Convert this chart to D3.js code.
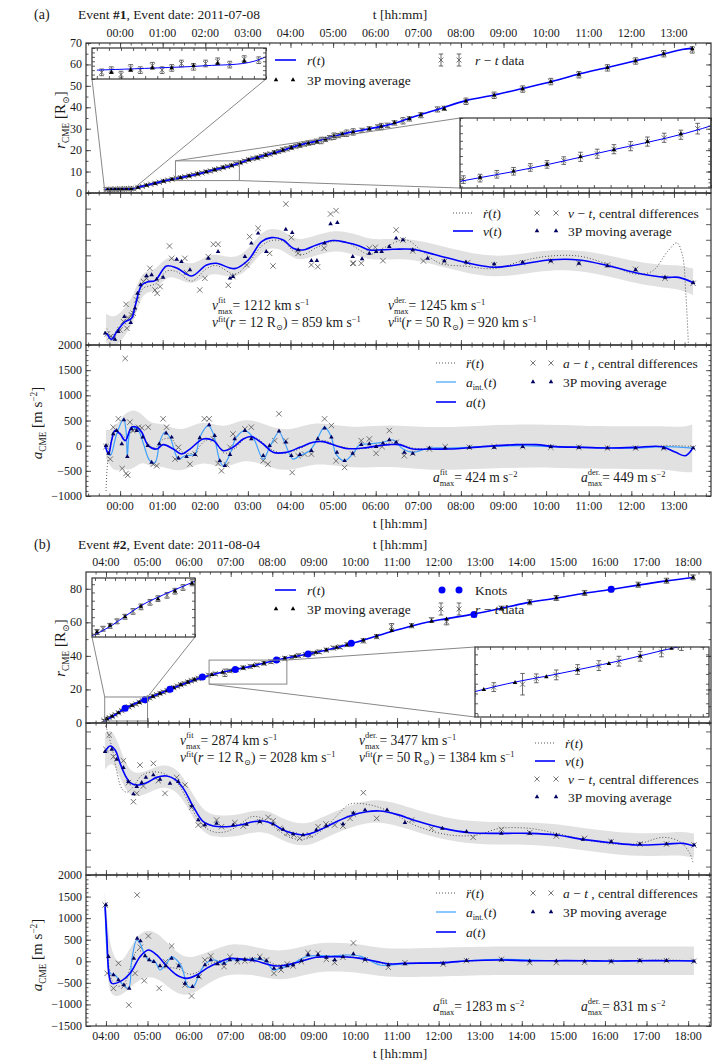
<!DOCTYPE html>
<html>
<head>
<meta charset="utf-8">
<script src="https://cdn.jsdelivr.net/npm/d3@7"></script>
<style>
body { margin: 0; background: #fff; }
svg, svg text { font-family: 'Liberation Serif', 'DejaVu Serif', serif; }
</style>
</head>
<body>
<div id="chart"></div>
<script>
// ---------- event #1 (2011-07-08), time in hours from 00:00 ----------
var hoursA = [0,1,2,3,4,5,6,7,8,9,10,11,12,13];
var hourLabelsA = ["00:00","01:00","02:00","03:00","04:00","05:00","06:00","07:00","08:00","09:00","10:00","11:00","12:00","13:00"];
var rTicksA = [0,10,20,30,40,50,60,70];

// [t, r, err]
var rDataA = [[-0.33,1.5,0.15],[-0.29,1.6,0.15],[-0.25,1.4,0.15],[-0.21,1.7,0.15],[-0.17,1.6,0.15],[-0.12,1.8,0.15],[-0.08,1.6,0.15],[-0.04,1.7,0.15],[0.0,1.9,0.15],[0.05,1.75,0.15],[0.1,1.9,0.15],[0.15,2.0,0.15],[0.2,1.85,0.15],[0.26,2.1,0.15],[0.32,2.05,0.15],[0.42,2.6,0.4],[0.52,3.1,0.4],[0.62,3.6,0.4],[0.72,4.1,0.4],[0.82,4.5,0.4],[0.92,5.0,0.5],[1.02,5.5,0.5],[1.12,6.0,0.5],[1.22,6.4,0.5],[1.32,6.9,0.5],[1.42,7.1,0.5],[1.52,7.6,0.5],[1.62,8.0,0.5],[1.72,8.5,0.5],[1.82,8.9,0.5],[1.92,9.4,0.5],[2.02,9.9,0.6],[2.12,10.3,0.6],[2.22,10.9,0.6],[2.32,11.3,0.6],[2.42,11.9,0.6],[2.52,12.4,0.6],[2.62,12.8,0.6],[2.72,13.6,0.7],[2.82,14.2,0.7],[2.92,14.9,0.7],[3.02,15.5,0.7],[3.12,16.1,0.7],[3.22,16.4,0.8],[3.32,17.1,0.8],[3.42,17.8,0.8],[3.52,18.2,0.8],[3.62,18.9,0.8],[3.72,19.4,0.8],[3.82,20.1,0.9],[3.92,20.6,0.9],[4.02,21.2,0.9],[4.12,21.9,0.9],[4.22,22.2,0.9],[4.32,22.8,0.9],[4.42,23.3,1.0],[4.52,23.6,1.0],[4.62,24.1,1.0],[4.72,24.5,1.5],[4.82,25.0,1.0],[4.92,25.8,1.0],[5.02,26.5,1.5],[5.12,26.8,1.0],[5.22,27.4,1.0],[5.32,27.9,1.5],[5.47,28.5,1.5],[5.68,29.2,1.0],[5.85,29.9,1.0],[6.05,30.8,1.0],[6.13,31.0,1.5],[6.28,31.6,1.0],[6.44,32.7,1.0],[6.64,33.7,1.5],[6.79,34.6,1.0],[7.06,36.3,1.2],[7.45,39.0,1.2],[7.61,39.5,1.0],[8.12,42.8,1.5],[8.78,45.6,1.5],[9.45,48.5,1.5],[10.11,52.0,1.5],[10.77,55.2,1.5],[11.44,58.4,1.5],[12.10,61.6,1.5],[12.76,65.0,1.5],[13.43,66.8,1.5]];
var rAvgA = [[-0.29,1.5],[-0.21,1.6],[-0.12,1.7],[-0.04,1.7],[0.05,1.8],[0.15,1.9],[0.26,2.0],[0.42,2.6],[0.62,3.6],[0.82,4.5],[1.02,5.5],[1.22,6.4],[1.42,7.2],[1.62,8.0],[1.82,8.9],[2.02,9.9],[2.22,10.8],[2.42,11.9],[2.62,12.9],[2.82,14.2],[3.02,15.5],[3.22,16.5],[3.42,17.7],[3.62,18.8],[3.82,20.0],[4.02,21.2],[4.22,22.3],[4.42,23.3],[4.62,24.1],[4.82,25.1],[5.02,26.4],[5.22,27.4],[5.47,28.4],[5.85,29.9],[6.13,31.1],[6.44,32.8],[6.79,34.7],[7.06,36.4],[7.61,39.4],[8.12,42.9],[8.78,45.6],[9.45,48.6],[10.11,51.9],[10.77,55.3],[11.44,58.5],[12.10,61.6],[12.76,64.9],[13.43,67.2]];
var rFitA = [[-0.35,1.6],[-0.1,1.7],[0.1,1.8],[0.3,2.0],[0.47,2.9],[0.7,4.0],[0.94,5.2],[1.33,6.8],[1.72,8.4],[2.19,10.7],[2.65,13.0],[3.04,15.6],[3.43,17.7],[3.83,20.0],[4.22,22.4],[4.61,24.2],[5.0,26.3],[5.39,28.3],[5.70,29.4],[6.17,31.2],[6.56,33.3],[6.95,35.9],[7.45,39.0],[8.12,43.1],[8.78,45.7],[9.45,48.8],[10.11,51.9],[10.77,55.5],[11.44,58.6],[12.10,61.7],[12.76,64.9],[13.19,67.0],[13.43,67.5]];

var vFitA = [[-0.31,0],[-0.20,-77],[-0.08,21],[0.12,150],[0.27,192],[0.35,342],[0.51,620],[0.66,663],[0.82,676],[1.09,864],[1.33,838],[1.68,736],[2.03,877],[2.26,898],[2.69,830],[3.01,941],[3.32,1176],[3.55,1227],[3.83,1197],[4.06,1091],[4.29,1069],[4.61,1133],[5.00,1190],[5.31,1165],[5.62,1120],[5.85,1069],[6.40,1078],[6.87,1078],[7.42,1005],[8.12,907],[8.78,847],[9.45,890],[10.07,941],[10.77,941],[11.48,864],[12.10,778],[12.80,718],[13.11,718],[13.45,650]];
var vBandA = [[-0.33,-120,250],[-0.15,-180,200],[0.0,-120,260],[0.15,0,350],[0.3,120,470],[0.5,480,770],[0.66,530,800],[0.82,540,810],[1.1,740,990],[1.33,710,960],[1.68,610,860],[2.03,750,1000],[2.26,770,1020],[2.69,700,950],[3.0,810,1070],[3.32,1050,1300],[3.55,1100,1350],[3.83,1070,1320],[4.06,960,1220],[4.29,940,1200],[4.61,1000,1260],[5.0,1060,1320],[5.31,1040,1300],[5.62,990,1260],[5.85,940,1200],[6.4,950,1210],[6.87,950,1210],[7.42,875,1135],[8.12,775,1040],[8.78,715,980],[9.45,760,1020],[10.07,810,1070],[10.77,810,1070],[11.48,730,1000],[12.1,640,920],[12.8,580,870],[13.11,570,880],[13.45,490,830]];
var vDotA = [[-0.31,60],[-0.2,-40],[-0.05,60],[0.12,180],[0.27,260],[0.4,420],[0.55,580],[0.7,610],[0.85,640],[1.1,800],[1.33,790],[1.68,670],[2.03,830],[2.26,870],[2.69,760],[3.01,900],[3.32,1120],[3.55,1190],[3.83,1180],[4.06,1060],[4.29,1010],[4.61,1100],[5.0,1180],[5.31,1170],[5.62,1070],[5.85,1010],[6.2,1100],[6.7,1200],[7.1,1050],[7.5,900],[8.12,860],[8.78,830],[9.45,930],[10.07,990],[10.77,990],[11.48,880],[12.10,760],[12.5,800],[12.85,1050],[13.07,1160],[13.2,1000],[13.28,500],[13.34,-150]];
var vCrossA = [[-0.30,-9],[-0.23,-43],[-0.16,-64],[0,43],[0.08,150],[0.14,372],[0.20,192],[0.16,64],[0.27,235],[0.31,257],[0.39,428],[0.55,663],[0.62,706],[0.70,834],[0.82,556],[0.94,599],[0.87,513],[1.16,1120],[1.21,962],[1.52,962],[1.56,778],[1.87,556],[1.99,706],[2.07,984],[2.19,1142],[2.30,1142],[2.54,616],[2.65,727],[2.97,877],[3.04,1240],[3.24,1347],[3.51,1026],[3.59,864],[3.89,1659],[4.02,1227],[4.18,1026],[4.49,877],[4.64,855],[4.79,1091],[4.94,1531],[5.07,1574],[5.46,898],[5.48,898],[5.66,898],[5.85,1091],[5.99,1103],[6.17,932],[6.48,1326],[6.64,1197],[6.87,1056],[7.12,928],[7.61,919],[8.16,907],[8.78,877],[9.45,907],[10.11,928],[10.77,898],[11.44,877],[12.10,821],[12.79,706],[13.45,641]];
var vAvgA = [[-0.35,0],[-0.12,-77],[-0.04,21],[0.10,214],[0.25,137],[0.35,321],[0.41,513],[0.48,620],[0.62,736],[0.74,748],[0.86,693],[1.01,718],[1.33,949],[1.44,919],[1.64,813],[2.07,962],[2.30,1048],[2.58,706],[2.65,727],[2.93,984],[3.08,1155],[3.24,1283],[3.43,1048],[3.89,1334],[4.04,1292],[4.18,1069],[4.49,932],[4.62,932],[4.80,1155],[4.94,1403],[5.10,1420],[5.46,984],[5.68,954],[5.85,1026],[6.01,1048],[6.14,1048],[6.32,1112],[6.48,1219],[6.64,1197],[6.87,1069],[7.22,962],[7.61,928],[8.12,911],[8.78,889],[9.45,911],[10.11,928],[10.77,898],[11.44,864],[12.10,813],[12.79,718],[13.45,650]];

var aFitA = [[-0.35,0],[-0.27,-167],[-0.20,100],[-0.12,300],[0,233],[0.12,100],[0.27,367],[0.39,367],[0.51,267],[0.66,0],[0.86,-67],[1.01,20],[1.25,-67],[1.44,-167],[1.64,-67],[1.95,133],[2.19,100],[2.42,-100],[2.65,-33],[2.89,133],[3.08,180],[3.36,33],[3.59,-133],[3.90,-133],[4.22,-33],[4.53,67],[4.76,80],[5.07,0],[5.35,-60],[5.70,-47],[6.09,0],[6.32,20],[6.56,20],[6.87,-67],[7.26,-67],[7.73,-67],[8.51,-20],[9.29,20],[9.76,20],[10.22,-20],[10.85,-33],[11.47,-47],[12.10,-33],[12.72,-20],[13.04,-133],[13.27,-200],[13.43,-67]];
var aIntA = [[-0.35,0],[-0.23,-200],[-0.08,233],[0.08,533],[0.14,300],[0.17,-220],[0.21,200],[0.27,367],[0.43,300],[0.55,33],[0.70,-300],[0.82,-333],[0.94,100],[1.05,267],[1.17,167],[1.37,-267],[1.52,-200],[1.76,-167],[1.87,167],[2.07,400],[2.19,233],[2.34,-300],[2.42,-400],[2.58,-167],[2.73,167],[2.93,300],[3.12,167],[3.36,-267],[3.51,-33],[3.73,267],[3.86,67],[4.06,-267],[4.22,-200],[4.45,-100],[4.61,100],[4.80,367],[4.96,167],[5.07,-167],[5.27,-300],[5.46,-167],[5.62,20],[5.78,33],[6.17,67],[6.40,113],[6.64,-67],[6.87,-133],[7.26,-47],[7.73,-47],[8.51,-20],[9.45,0],[10.07,-20],[10.85,-33],[12.10,-47],[12.72,-20],[13.43,-47]];
var aDotA = [[-0.33,-900],[-0.30,-400],[-0.25,-100],[-0.15,200],[0,250],[0.15,150],[0.3,300],[0.45,300],[0.6,100],[0.8,-50],[1.0,120],[1.2,140],[1.4,-100],[1.7,-150],[2.0,100],[2.2,120],[2.45,-150],[2.7,-50],[2.95,150],[3.2,150],[3.5,-50],[3.8,-150],[4.1,-100],[4.5,50],[4.8,100],[5.1,0],[5.5,-60],[6.0,-30],[6.4,60],[6.9,-50],[7.5,-60],[8.5,-20],[9.5,20],[10.5,-20],[11.5,-40],[12.5,-20],[13.0,0],[13.45,-20]];
var aBandA = [[-0.33,-250,320],[-0.16,-530,300],[0.05,-450,600],[0.27,-500,730],[0.5,-300,650],[0.7,-420,430],[1.0,-400,450],[1.44,-560,250],[1.95,-270,540],[2.42,-500,320],[2.89,-250,560],[3.36,-380,440],[3.9,-540,260],[4.53,-340,480],[5.07,-400,400],[5.62,-450,360],[6.32,-400,420],[7.26,-500,350],[8.51,-460,400],[9.76,-420,430],[10.85,-460,390],[12.1,-470,380],[12.72,-460,390],[13.2,-530,360],[13.43,-530,420]];
var aCrossA = [[-0.33,-20],[-0.23,-267],[-0.16,367],[-0.04,533],[0.05,-453],[0.12,1733],[0.14,-553],[0.18,-587],[0.23,467],[0.30,300],[0.35,333],[0.43,367],[0.51,353],[0.66,367],[0.78,-367],[0.86,-400],[1.01,533],[1.09,367],[1.29,-267],[1.37,-33],[1.64,-367],[1.76,-167],[1.98,533],[2.09,533],[2.19,133],[2.30,-353],[2.38,-500],[2.50,-380],[2.58,-33],[2.65,233],[2.93,333],[3.08,367],[3.36,-300],[3.47,-367],[3.63,100],[3.73,633],[3.89,100],[4.04,-533],[4.18,-200],[4.33,-167],[4.49,-167],[4.80,533],[4.96,400],[5.07,-300],[5.27,-433],[5.46,-167],[5.66,100],[5.85,133],[6.01,-153],[6.15,-20],[6.32,300],[6.48,67],[6.67,-200],[6.87,-153],[7.26,-67],[7.63,-20],[8.20,-33],[8.78,-20],[9.45,-20],[10.11,-33],[10.77,-33],[11.44,-47],[12.10,-47],[12.76,-47],[13.45,-47]];
var aAvgA = [[-0.33,0],[-0.27,-153],[-0.16,233],[-0.08,300],[0.04,33],[0.09,513],[0.17,-220],[0.27,333],[0.39,300],[0.53,167],[0.65,0],[0.74,-333],[0.92,33],[1.08,247],[1.21,167],[1.37,-247],[1.56,-220],[1.76,-180],[1.87,153],[2.09,413],[2.22,200],[2.34,-300],[2.46,-400],[2.58,-180],[2.69,133],[2.93,300],[3.08,133],[3.36,-200],[3.51,0],[3.73,287],[3.89,67],[4.02,-200],[4.22,-180],[4.49,-100],[4.64,133],[4.80,347],[4.96,167],[5.09,-133],[5.27,-300],[5.46,-153],[5.66,20],[5.85,33],[6.01,-20],[6.17,47],[6.32,113],[6.48,67],[6.67,-133],[6.87,-153],[7.26,-47],[7.63,-47],[8.20,-33],[8.78,-33],[9.45,-20],[10.11,-20],[10.77,-33],[11.44,-47],[12.10,-47],[12.76,-47],[13.45,-47]];

// ---------- event #2 (2011-08-04) ----------
var hoursB = [4,5,6,7,8,9,10,11,12,13,14,15,16,17,18];
var hourLabelsB = ["04:00","05:00","06:00","07:00","08:00","09:00","10:00","11:00","12:00","13:00","14:00","15:00","16:00","17:00","18:00"];
var rTicksB = [0,20,40,60,80];

var rDataB = [[3.95,1.5,0.6],[4.02,2.4,0.6],[4.08,3.2,0.6],[4.15,3.9,0.6],[4.22,5.0,0.6],[4.30,6.1,0.6],[4.38,7.4,0.7],[4.46,8.5,0.7],[4.55,9.6,0.7],[4.63,10.5,0.7],[4.72,11.3,0.7],[4.80,12.3,0.7],[4.88,13.2,0.7],[4.97,14.4,0.8],[5.05,15.0,0.8],[5.13,15.9,0.8],[5.22,16.8,0.8],[5.30,17.6,0.8],[5.38,18.4,0.8],[5.47,19.3,0.8],[5.55,20.3,0.8],[5.63,21.1,0.8],[5.72,21.9,0.8],[5.80,22.8,0.8],[5.88,23.5,0.9],[5.97,24.4,0.9],[6.05,25.2,0.9],[6.13,25.8,0.9],[6.22,26.6,0.9],[6.30,27.3,0.9],[6.47,28.4,0.9],[6.63,29.3,0.9],[6.86,29.9,2.2],[6.97,31.1,0.9],[7.13,31.8,1.0],[7.30,32.9,1.0],[7.47,33.7,1.0],[7.63,34.6,1.0],[7.80,35.6,1.0],[7.97,36.5,1.0],[8.13,37.8,1.0],[8.30,38.5,1.0],[8.47,39.2,1.0],[8.63,40.2,1.0],[8.80,40.7,1.0],[8.97,41.6,1.0],[9.13,42.4,1.0],[9.30,43.5,1.0],[9.47,44.7,1.0],[9.63,45.3,1.0],[9.80,46.7,1.0],[10.19,49.0,1.2],[10.51,51.5,1.2],[10.87,57.5,1.8],[11.35,58.0,1.2],[11.83,61.5,1.2],[12.19,60.3,1.8],[12.85,64.5,1.2],[13.51,68.4,1.2],[14.19,72.0,1.5],[14.83,74.5,1.5],[15.51,77.5,1.5],[16.15,79.6,1.5],[16.80,82.4,1.5],[17.48,84.8,1.5],[18.12,86.8,1.5]];
var rAvgB = [[4.02,2.4],[4.15,4.0],[4.30,6.1],[4.46,8.6],[4.63,10.4],[4.80,12.3],[4.97,14.2],[5.13,15.9],[5.30,17.6],[5.47,19.3],[5.63,21.0],[5.80,22.8],[5.97,24.3],[6.13,25.9],[6.30,27.2],[6.55,28.8],[6.80,30.2],[7.05,31.4],[7.30,32.8],[7.55,34.1],[7.80,35.6],[8.05,37.2],[8.30,38.5],[8.55,39.7],[8.80,40.8],[9.05,42.0],[9.30,43.5],[9.55,45.0],[9.80,46.6],[10.19,49.3],[10.51,51.7],[10.87,55.0],[11.35,58.0],[11.83,60.5],[12.19,61.9],[12.85,64.8],[13.51,68.3],[14.19,71.9],[14.83,74.5],[15.51,77.3],[16.15,79.6],[16.80,82.3],[17.48,84.7],[18.12,86.7]];
var rFitB = [[3.95,1.4],[4.0,1.8],[4.18,4.2],[4.46,8.8],[4.7,11.6],[4.94,14.1],[5.22,16.9],[5.54,20.1],[5.94,24.0],[6.34,27.4],[6.74,30.0],[7.14,32.0],[7.62,34.6],[8.10,37.5],[8.50,39.5],[8.86,41.1],[9.14,42.6],[9.63,45.5],[9.9,47.4],[10.19,49.4],[10.51,51.8],[10.99,55.4],[11.47,58.6],[12.03,61.5],[12.83,64.9],[13.39,67.7],[14.11,71.6],[14.83,74.4],[15.47,77.2],[16.15,79.6],[16.80,82.2],[17.48,84.7],[18.12,86.7]];
var knotsB = [[4.46,8.8],[4.94,13.9],[5.54,20.1],[6.32,27.4],[7.11,31.9],[8.10,37.6],[8.86,41.1],[9.90,47.5],[12.85,64.6],[16.15,79.7]];

var vFitB = [[3.98,2720],[4.10,2854],[4.22,2760],[4.34,2444],[4.46,2168],[4.58,1986],[4.74,1931],[4.98,1986],[5.22,2112],[5.46,2144],[5.66,2065],[5.86,1852],[6.10,1418],[6.34,1062],[6.58,960],[6.90,944],[7.22,983],[7.54,1062],[7.78,1078],[8.02,1007],[8.26,865],[8.50,786],[8.74,747],[8.98,802],[9.22,904],[9.54,1062],[9.87,1200],[10.27,1299],[10.59,1315],[10.99,1236],[11.47,1078],[12.11,904],[12.75,802],[13.47,786],[14.19,786],[14.83,747],[15.47,644],[16.15,565],[16.76,510],[17.48,533],[17.88,549],[18.14,486]];
var vBandB = [[3.98,2300,3150],[4.1,2450,3250],[4.22,2400,3100],[4.34,2100,2800],[4.46,1850,2480],[4.58,1700,2280],[4.74,1650,2200],[4.98,1720,2260],[5.22,1850,2380],[5.46,1880,2410],[5.66,1800,2330],[5.86,1580,2120],[6.1,1150,1690],[6.34,800,1330],[6.58,700,1220],[6.9,690,1200],[7.22,730,1240],[7.54,810,1320],[7.78,820,1340],[8.02,750,1270],[8.26,610,1130],[8.5,530,1050],[8.74,490,1010],[8.98,540,1060],[9.22,640,1170],[9.54,800,1320],[9.87,920,1450],[10.27,1040,1560],[10.59,1050,1580],[10.99,970,1500],[11.47,820,1340],[12.11,640,1170],[12.75,540,1070],[13.47,520,1050],[14.19,520,1050],[14.83,480,1010],[15.47,380,910],[16.15,300,830],[16.76,240,780],[17.48,260,800],[17.88,270,830],[18.14,200,780]];
var vDotB = [[3.97,3400],[4.05,3150],[4.15,2800],[4.25,2300],[4.38,1850],[4.50,1760],[4.65,1880],[4.85,2150],[5.1,2240],[5.4,2200],[5.7,2000],[6.0,1500],[6.3,1000],[6.6,820],[6.9,830],[7.2,980],[7.5,1180],[7.8,1130],[8.1,900],[8.4,700],[8.7,640],[9.0,730],[9.3,950],[9.6,1250],[9.87,1480],[10.35,1460],[10.83,1300],[11.47,960],[12.27,747],[12.91,747],[13.47,904],[14.19,904],[14.83,786],[15.47,644],[16.28,533],[16.84,549],[17.40,691],[17.80,589],[18.04,312],[18.12,75]];
var vCrossB = [[4.0,2775],[4.08,3115],[4.18,2602],[4.42,2507],[4.54,1986],[4.66,1536],[4.74,1733],[4.82,2404],[4.90,1907],[5.14,2444],[5.26,2033],[5.42,1733],[5.70,2112],[5.90,1931],[6.06,1402],[6.22,983],[6.34,983],[6.66,1102],[6.78,944],[7.10,1039],[7.30,960],[7.70,1062],[7.90,1165],[8.02,1086],[8.18,904],[8.36,786],[8.52,747],[8.66,668],[8.90,747],[9.10,944],[9.29,1007],[9.50,983],[9.70,960],[9.87,1141],[9.95,1244],[10.19,1749],[10.51,1141],[11.35,1102],[11.83,904],[12.83,691],[13.51,881],[14.19,802],[14.83,723],[15.51,668],[16.15,589],[16.84,533],[17.48,533],[18.14,510]];
var vAvgB = [[3.98,2720],[4.14,2775],[4.26,2538],[4.42,2341],[4.54,2010],[4.66,1718],[4.74,1891],[4.86,1986],[4.96,2112],[5.14,2168],[5.30,2065],[5.54,1970],[5.74,2010],[6.06,1434],[6.22,1102],[6.38,983],[6.66,1023],[7.06,983],[7.38,999],[7.70,1062],[8.02,1007],[8.26,881],[8.50,770],[8.74,747],[9.06,865],[9.30,960],[9.70,1007],[9.95,1268],[10.23,1339],[10.76,1339],[11.19,1039],[12.09,904],[12.67,825],[13.51,786],[14.19,786],[14.83,747],[15.47,644],[16.15,589],[16.84,533],[17.48,533],[18.14,510]];

var aFitB = [[3.98,1266],[4.02,571],[4.08,-356],[4.14,-511],[4.34,-472],[4.58,-279],[4.82,107],[5.02,262],[5.22,146],[5.46,-109],[5.70,-318],[5.94,-395],[6.18,-318],[6.42,-164],[6.66,-47],[6.98,68],[7.30,45],[7.62,7],[7.86,-63],[8.10,-109],[8.34,-86],[8.66,-9],[9.06,92],[9.46,107],[9.79,100],[10.11,68],[10.51,-8],[10.83,-63],[11.15,-47],[12.11,-32],[12.75,14],[13.47,30],[14.19,14],[14.83,14],[15.47,14],[16.15,6],[16.84,14],[17.48,14],[18.14,6]];
var aIntB = [[3.98,1266],[4.03,184],[4.10,-279],[4.22,-318],[4.34,-472],[4.54,-627],[4.62,30],[4.74,494],[4.82,416],[4.90,223],[5.02,30],[5.18,-9],[5.30,-202],[5.46,-47],[5.58,107],[5.70,30],[5.82,-125],[5.98,-588],[6.10,-588],[6.22,-356],[6.34,-125],[6.46,-9],[6.62,30],[6.82,-47],[6.98,30],[7.18,30],[7.42,45],[7.66,53],[7.86,-9],[8.02,-202],[8.18,-164],[8.34,-125],[8.58,-9],[8.82,107],[9.14,130],[9.46,123],[9.79,146],[10.11,120],[10.59,-86],[10.83,-86],[11.47,-47],[12.11,-32],[12.75,14],[13.47,45],[14.83,14],[16.15,6],[17.48,14],[18.14,14]];
var aDotB = [[3.98,1280],[4.03,400],[4.08,-200],[4.15,-450],[4.3,-580],[4.45,-500],[4.6,-100],[4.75,250],[4.9,200],[5.05,50],[5.2,-50],[5.4,-150],[5.6,-150],[5.8,-200],[6.0,-300],[6.2,-250],[6.4,-100],[6.7,0],[7.0,40],[7.3,60],[7.6,60],[7.9,0],[8.1,-80],[8.4,-60],[8.7,0],[9.0,80],[9.4,110],[9.8,110],[10.2,60],[10.6,-40],[11.0,-60],[11.5,-40],[12.1,-30],[12.8,10],[13.5,40],[14.2,20],[14.8,10],[15.5,10],[16.2,0],[16.8,20],[17.5,30],[18.14,10]];
var aBandB = [[3.97,1000,1600],[4.03,-300,1000],[4.1,-800,300],[4.3,-820,-100],[4.5,-700,150],[4.75,-450,600],[5.0,-350,750],[5.25,-400,650],[5.5,-600,400],[5.8,-800,120],[6.1,-760,80],[6.4,-550,200],[6.7,-380,300],[7.0,-300,420],[7.5,-300,360],[8.0,-420,240],[8.4,-420,250],[9.0,-250,420],[9.5,-230,440],[10.1,-260,400],[10.6,-350,300],[11.2,-370,290],[12.1,-350,320],[13.5,-310,350],[15.0,-320,340],[16.5,-320,340],[18.14,-320,340]];
var aCrossB = [[3.98,1305],[4.03,-279],[4.18,-627],[4.30,-47],[4.43,-573],[4.55,-1013],[4.70,-279],[4.75,1537],[4.83,324],[4.92,-449],[5.02,586],[5.28,-627],[5.43,-9],[5.58,354],[5.75,-109],[5.90,-550],[6.06,-805],[6.24,-356],[6.38,30],[6.52,123],[6.68,-32],[6.84,-125],[6.98,107],[7.16,-9],[7.34,7],[7.52,30],[7.70,107],[7.86,30],[8.04,-279],[8.21,-202],[8.36,-63],[8.50,-109],[8.70,-9],[8.86,200],[9.10,184],[9.30,45],[9.50,-32],[9.70,92],[9.95,424],[10.23,30],[10.79,-140],[11.19,-32],[12.11,-63],[12.67,14],[13.51,45],[14.19,-32],[14.83,-32],[15.51,-24],[16.15,-8],[16.84,14],[17.48,14],[18.14,0]];
var aAvgB = [[4.00,1305],[4.06,107],[4.18,-318],[4.30,-434],[4.43,-550],[4.56,-627],[4.67,68],[4.75,532],[4.83,470],[4.94,123],[5.04,30],[5.15,-9],[5.30,-109],[5.44,-109],[5.58,68],[5.75,-109],[5.90,-511],[6.08,-588],[6.22,-356],[6.38,-86],[6.52,30],[6.68,-63],[6.84,-47],[6.98,30],[7.16,30],[7.34,45],[7.52,45],[7.70,68],[7.86,7],[8.04,-164],[8.21,-140],[8.36,-109],[8.50,-86],[8.70,14],[8.86,146],[9.10,146],[9.30,92],[9.50,30],[9.70,107],[9.95,172],[10.23,45],[10.79,-86],[11.19,-63],[12.11,-47],[12.67,14],[13.51,30],[14.19,6],[14.83,6],[15.51,0],[16.15,0],[16.84,14],[17.48,14],[18.14,0]];

// ---------- layout ----------
var W = 712, H = 1061, X0 = 86, X1 = 711;
var BLUE = "#0000ff", LIGHT = "#3fa0ff", BAND = "#e1e1e1", INK = "#1a1a1a";
var SERIF = "'Liberation Serif', 'DejaVu Serif', serif";
var NOTE = 13.6;

var svg = d3.select("#chart").append("svg").attr("width", W).attr("height", H)
    .attr("font-family", SERIF);
var defs = svg.append("defs");
var clipN = 0;

function clipUrl(x, y, w, h) {
	var id = "clip" + (clipN++);
	defs.append("clipPath").attr("id", id)
	  .append("rect").attr("x", x).attr("y", y).attr("width", w).attr("height", h);
	return "url(#" + id + ")";
}

function newText(g, x, y, size) {
	return g.append("text").attr("x", x).attr("y", y)
	    .style("font-size", size + "px").style("font-family", SERIF).attr("fill", INK);
}

// text with italics, superscripts, subscripts; parts = [[text, kind]]
// kind "ud" stacks a superscript over a subscript; text is split around it
function mathText(g, x, y, parts, size) {
	var grp = g.append("g");
	var x0 = x;
	var t = newText(grp, x0, y, size);
	var cur = 0, small = size * 0.62;
	parts.forEach(function(p) {
		var kind = p[1] || "n";
		if (kind === "ud") {
			var px = x0 + t.node().getComputedTextLength();
			var a = newText(grp, px, y - 0.48 * size, small).text(p[0][0]);
			var b = newText(grp, px, y + 0.3 * size, small).text(p[0][1]);
			x0 = px + Math.max(a.node().getComputedTextLength(), b.node().getComputedTextLength());
			t = newText(grp, x0, y, size);
			cur = 0;
			return;
		}
		var off = kind === "u" ? -0.36 * size : (kind === "d" ? 0.25 * size : 0);
		var sp = t.append("tspan").attr("dy", off - cur).text(p[0]);
		if (kind === "u" || kind === "d") sp.style("font-size", small + "px");
		if (kind === "i") sp.style("font-style", "italic");
		cur = off;
	});
	return grp;
}

function crossAt(g, x, y, s) {
	s = s || 2.7;
	g.append("path").attr("d", "M" + (x - s) + "," + (y - s) + "L" + (x + s) + "," + (y + s) + "M" + (x - s) + "," + (y + s) + "L" + (x + s) + "," + (y - s))
	    .attr("stroke", "#555").attr("stroke-width", 0.8).attr("fill", "none");
}

var triShape = d3.symbol().type(d3.symbolTriangle).size(9);

function triAt(g, x, y, color) {
	g.append("path").attr("d", triShape()).attr("transform", "translate(" + x + "," + y + ")").attr("fill", color);
}

function errAt(g, x, y0, y1) {
	g.append("path").attr("d", "M" + x + "," + y0 + "V" + y1 + "M" + (x - 2.3) + "," + y0 + "H" + (x + 2.3) + "M" + (x - 2.3) + "," + y1 + "H" + (x + 2.3))
	    .attr("stroke", "#444").attr("stroke-width", 0.8).attr("fill", "none");
}

function line(x, y) {
	return d3.line().x(function(d) { return x(d[0]); }).y(function(d) { return y(d[1]); }).curve(d3.curveCatmullRom.alpha(0.5));
}

function band(x, y) {
	return d3.area().x(function(d) { return x(d[0]); })
	    .y0(function(d) { return y(d[1]); }).y1(function(d) { return y(d[2]); })
	    .curve(d3.curveBasis);
}

function styleAxis(sel) {
	sel.select(".domain").remove();
	sel.selectAll("text").remove();
	sel.selectAll("line").attr("stroke", "#333").attr("stroke-width", 0.8);
}

function frame(x, y, y0, y1, tMajor, tMinor, yMajor, yMinor, yLabels) {
	var g = svg.append("g");
	[[d3.axisTop, y0], [d3.axisBottom, y1]].forEach(function(a) {
		g.append("g").attr("transform", "translate(0," + a[1] + ")")
		    .call(a[0](x).tickValues(tMinor).tickSize(-2.5).tickFormat("")).call(styleAxis);
		g.append("g").attr("transform", "translate(0," + a[1] + ")")
		    .call(a[0](x).tickValues(tMajor).tickSize(-5).tickFormat("")).call(styleAxis);
	});
	[[d3.axisLeft, X0], [d3.axisRight, X1]].forEach(function(a) {
		g.append("g").attr("transform", "translate(" + a[1] + ",0)")
		    .call(a[0](y).tickValues(yMinor).tickSize(-2.5).tickFormat("")).call(styleAxis);
		g.append("g").attr("transform", "translate(" + a[1] + ",0)")
		    .call(a[0](y).tickValues(yMajor).tickSize(-5).tickFormat("")).call(styleAxis);
	});
	g.append("rect").attr("x", X0).attr("y", y0).attr("width", X1 - X0).attr("height", y1 - y0)
	    .attr("fill", "none").attr("stroke", "#333").attr("stroke-width", 1.2);
	if (yLabels) {
		g.selectAll(null).data(yLabels).enter().append("text")
		    .attr("x", 82).attr("y", function(d) { return y(d) + 4; })
		    .attr("text-anchor", "end").style("font-size", "12px").style("font-family", SERIF).attr("fill", INK)
		    .text(function(d) { return d < 0 ? "\u2212" + (-d) : d; });
	}
}

function yLabel(cx, cy, parts) {
	var g = svg.append("g").attr("transform", "translate(" + cx + "," + cy + ") rotate(-90)");
	var t = mathText(g, 0, 5, parts, 15);
	var bb = t.node().getBBox();
	t.attr("transform", "translate(" + (-bb.width / 2) + ",0)");
}

function corner(o, k) {
	return [k[0] === "l" ? o.l : o.r, k[1] === "t" ? o.t : o.b];
}

function drawInset(ins, x, y, rData, rFit, rAvg) {
	var xi = d3.scaleLinear().domain(ins.t).range([ins.box[0], ins.box[1]]);
	var yi = d3.scaleLinear().domain(ins.r).range([ins.box[3], ins.box[2]]);
	var sm = {l: x(ins.t[0]), r: x(ins.t[1]), t: y(ins.r[1]), b: y(ins.r[0])};
	var bx = {l: ins.box[0], r: ins.box[1], t: ins.box[2], b: ins.box[3]};
	svg.append("rect").attr("x", sm.l).attr("y", sm.t).attr("width", sm.r - sm.l).attr("height", sm.b - sm.t)
	    .attr("fill", "none").attr("stroke", "#888").attr("stroke-width", 1);
	ins.links.forEach(function(k) {
		var p = corner(sm, k[0]), q = corner(bx, k[1]);
		svg.append("line").attr("x1", p[0]).attr("y1", p[1]).attr("x2", q[0]).attr("y2", q[1])
		    .attr("stroke", "#888").attr("stroke-width", 1);
	});
	svg.append("rect").attr("x", bx.l).attr("y", bx.t).attr("width", bx.r - bx.l).attr("height", bx.b - bx.t).attr("fill", "#fff");
	var body = svg.append("g").attr("clip-path", clipUrl(bx.l, bx.t, bx.r - bx.l, bx.b - bx.t));
	rData.forEach(function(d) {
		errAt(body, xi(d[0]), yi(d[1] - d[2]), yi(d[1] + d[2]));
		crossAt(body, xi(d[0]), yi(d[1]), 2.5);
	});
	body.append("path").datum(rFit).attr("d", line(xi, yi)).attr("fill", "none").attr("stroke", BLUE).attr("stroke-width", 1);
	rAvg.forEach(function(d) { triAt(body, xi(d[0]), yi(d[1]), "#000"); });
	var g = svg.append("g");
	[[d3.axisTop, bx.t], [d3.axisBottom, bx.b]].forEach(function(a) {
		g.append("g").attr("transform", "translate(0," + a[1] + ")")
		    .call(a[0](xi).ticks(ins.nx).tickSize(-3).tickFormat("")).call(styleAxis);
	});
	[[d3.axisLeft, bx.l], [d3.axisRight, bx.r]].forEach(function(a) {
		g.append("g").attr("transform", "translate(" + a[1] + ",0)")
		    .call(a[0](yi).ticks(ins.ny).tickSize(-3).tickFormat("")).call(styleAxis);
	});
	g.append("rect").attr("x", bx.l).attr("y", bx.t).attr("width", bx.r - bx.l).attr("height", bx.b - bx.t)
	    .attr("fill", "none").attr("stroke", "#333").attr("stroke-width", 1.2);
}

function legendText(x, y, parts) {
	mathText(svg, x, y + 4.5, parts, 13.5);
}

function plainText(x, y, txt, anchor) {
	return newText(svg, x, y, 13.5).attr("text-anchor", anchor || "start").text(txt);
}

function drawEvent(ev) {
	var x = d3.scaleLinear().domain(ev.t).range([X0, X1]);
	var tMinor = d3.range(Math.ceil(ev.t[0] * 4) / 4, ev.t[1], 0.25);
	var hourLabel = function(yy) {
		svg.append("g").selectAll("text").data(ev.hours).enter().append("text")
		    .attr("x", function(d) { return x(d); }).attr("y", yy)
		    .attr("text-anchor", "middle").style("font-size", "12px").style("font-family", SERIF).attr("fill", INK)
		    .text(function(d, i) { return ev.hourLabels[i]; });
	};

	// header
	plainText(34, ev.head, ev.tag).style("font-size", "14px");
	var ht = plainText(78, ev.head, "");
	ht.append("tspan").text("Event ");
	ht.append("tspan").style("font-weight", "bold").text(ev.num);
	ht.append("tspan").text(", Event date: " + ev.date);
	plainText(400, ev.head, "t [hh:mm]", "middle");
	hourLabel(ev.rBox[0] - 6);
	hourLabel(ev.aBox[1] + 14);
	plainText(400, ev.aBox[1] + 32, "t [hh:mm]", "middle");

	// ---- r panel ----
	var yr = d3.scaleLinear().domain(ev.rDom).range([ev.rBox[1], ev.rBox[0]]);
	var gr = svg.append("g").attr("clip-path", clipUrl(X0, ev.rBox[0], X1 - X0, ev.rBox[1] - ev.rBox[0]));
	ev.rData.forEach(function(d) {
		errAt(gr, x(d[0]), yr(d[1] - d[2]), yr(d[1] + d[2]));
		crossAt(gr, x(d[0]), yr(d[1]));
	});
	gr.append("path").datum(ev.rFit).attr("d", line(x, yr)).attr("fill", "none").attr("stroke", BLUE).attr("stroke-width", 1.6);
	ev.rAvg.forEach(function(d) { triAt(gr, x(d[0]), yr(d[1]), "#000"); });
	if (ev.knots) ev.knots.forEach(function(d) {
		gr.append("circle").attr("cx", x(d[0])).attr("cy", yr(d[1])).attr("r", 3.5).attr("fill", BLUE);
	});
	ev.insets.forEach(function(ins) { drawInset(ins, x, yr, ev.rData, ev.rFit, ev.rAvg); });
	frame(x, yr, ev.rBox[0], ev.rBox[1], ev.hours, tMinor, ev.rTicks, d3.range(0, ev.rDom[1], ev.rMinor), ev.rTicks);
	yLabel(ev.rLab[0], ev.rLab[1], [["r", "i"], ["CME", "d"], [" [R"], ["\u2299", "d"], ["]"]]);

	// r legend
	var L = ev.rLeg;
	svg.append("line").attr("x1", 275).attr("x2", 296).attr("y1", L[0]).attr("y2", L[0]).attr("stroke", BLUE).attr("stroke-width", 1.6);
	legendText(307, L[0], [["r", "i"], ["("], ["t", "i"], [")"]]);
	triAt(svg, 276, L[1], "#000"); triAt(svg, 293, L[1], "#000");
	legendText(307, L[1], [["3P moving average"]]);
	var dy = ev.knots ? L[1] : L[0];
	[441, 459].forEach(function(px) { errAt(svg, px, dy - 6, dy + 6); crossAt(svg, px, dy, 2.5); });
	legendText(475, dy, [["r", "i"], [" \u2212 "], ["t", "i"], [" data"]]);
	if (ev.knots) {
		[442, 459].forEach(function(px) { svg.append("circle").attr("cx", px).attr("cy", L[0]).attr("r", 3.5).attr("fill", BLUE); });
		legendText(475, L[0], [["Knots"]]);
	}

	// ---- v panel ----
	var yv = d3.scaleLinear().domain(ev.vDom).range([ev.vBox[1], ev.vBox[0]]);
	var gv = svg.append("g").attr("clip-path", clipUrl(X0, ev.vBox[0], X1 - X0, ev.vBox[1] - ev.vBox[0]));
	gv.append("path").datum(ev.vBand).attr("d", band(x, yv)).attr("fill", BAND);
	gv.append("path").datum(ev.vDot).attr("d", line(x, yv)).attr("fill", "none").attr("stroke", "#444").attr("stroke-width", 0.9).attr("stroke-dasharray", "1,2");
	ev.vCross.forEach(function(d) { crossAt(gv, x(d[0]), yv(d[1])); });
	gv.append("path").datum(ev.vFit).attr("d", line(x, yv)).attr("fill", "none").attr("stroke", BLUE).attr("stroke-width", 1.6);
	ev.vAvg.forEach(function(d) { triAt(gv, x(d[0]), yv(d[1]), "#000060"); });
	frame(x, yv, ev.vBox[0], ev.vBox[1], ev.hours, tMinor, d3.range(0, ev.vDom[1], ev.vStep), [], null);

	var V = ev.vLeg;
	svg.append("line").attr("x1", V.lx).attr("x2", V.lx + 20).attr("y1", V.y[0]).attr("y2", V.y[0]).attr("stroke", "#444").attr("stroke-width", 0.9).attr("stroke-dasharray", "1,2");
	legendText(V.lx + 30, V.y[0], [["\u1E59", "i"], ["("], ["t", "i"], [")"]]);
	svg.append("line").attr("x1", V.lx).attr("x2", V.lx + 20).attr("y1", V.y[1]).attr("y2", V.y[1]).attr("stroke", BLUE).attr("stroke-width", 1.6);
	legendText(V.lx + 30, V.y[1], [["v", "i"], ["("], ["t", "i"], [")"]]);
	crossAt(svg, 537, V.y[2], 2.5); crossAt(svg, 556, V.y[2], 2.5);
	legendText(568, V.y[2], [["v", "i"], [" \u2212 "], ["t", "i"], [", central differences"]]);
	triAt(svg, 537, V.y[3], "#000060"); triAt(svg, 556, V.y[3], "#000060");
	legendText(568, V.y[3], [["3P moving average"]]);

	var N = ev.vNote;
	mathText(svg, N.x[0], N.y[0], [["v", "i"], [["fit", "max"], "ud"], ["= " + N.fitMax + " km s"], ["\u22121", "u"]], NOTE);
	mathText(svg, N.x[0], N.y[1], [["v", "i"], ["fit", "u"], ["("], ["r", "i"], [" = 12 R"], ["\u2299", "d"], [") = " + N.fit12 + " km s"], ["\u22121", "u"]], NOTE);
	mathText(svg, N.x[1], N.y[0], [["v", "i"], [["der.", "max"], "ud"], ["= " + N.derMax + " km s"], ["\u22121", "u"]], NOTE);
	mathText(svg, N.x[1], N.y[1], [["v", "i"], ["fit", "u"], ["("], ["r", "i"], [" = 50 R"], ["\u2299", "d"], [") = " + N.fit50 + " km s"], ["\u22121", "u"]], NOTE);

	// ---- a panel ----
	var ya = d3.scaleLinear().domain(ev.aDom).range([ev.aBox[1], ev.aBox[0]]);
	var ga = svg.append("g").attr("clip-path", clipUrl(X0, ev.aBox[0], X1 - X0, ev.aBox[1] - ev.aBox[0]));
	ga.append("path").datum(ev.aBand).attr("d", band(x, ya)).attr("fill", BAND);
	ga.append("path").datum(ev.aDot).attr("d", line(x, ya)).attr("fill", "none").attr("stroke", "#444").attr("stroke-width", 0.9).attr("stroke-dasharray", "1,2");
	ev.aCross.forEach(function(d) { crossAt(ga, x(d[0]), ya(d[1])); });
	ga.append("path").datum(ev.aInt).attr("d", line(x, ya)).attr("fill", "none").attr("stroke", LIGHT).attr("stroke-width", 1.2);
	ga.append("path").datum(ev.aFit).attr("d", line(x, ya)).attr("fill", "none").attr("stroke", BLUE).attr("stroke-width", 1.6);
	ev.aAvg.forEach(function(d) { triAt(ga, x(d[0]), ya(d[1]), "#000060"); });
	var aLabels = d3.range(ev.aDom[0], ev.aDom[1] + 1, 500);
	frame(x, ya, ev.aBox[0], ev.aBox[1], ev.hours, tMinor, aLabels, d3.range(ev.aDom[0], ev.aDom[1], 100), aLabels);
	yLabel(ev.aLab[0], ev.aLab[1], [["a", "i"], ["CME", "d"], [" [m s"], ["\u22122", "u"], ["]"]]);

	var A = ev.aLeg;
	svg.append("line").attr("x1", 436).attr("x2", 456).attr("y1", A[0]).attr("y2", A[0]).attr("stroke", "#444").attr("stroke-width", 0.9).attr("stroke-dasharray", "1,2");
	legendText(466, A[0], [["r\u0308", "i"], ["("], ["t", "i"], [")"]]);
	svg.append("line").attr("x1", 436).attr("x2", 456).attr("y1", A[1]).attr("y2", A[1]).attr("stroke", LIGHT).attr("stroke-width", 1.2);
	legendText(466, A[1], [["a", "i"], ["int.", "d"], ["("], ["t", "i"], [")"]]);
	svg.append("line").attr("x1", 436).attr("x2", 456).attr("y1", A[2]).attr("y2", A[2]).attr("stroke", BLUE).attr("stroke-width", 1.6);
	legendText(466, A[2], [["a", "i"], ["("], ["t", "i"], [")"]]);
	crossAt(svg, 533, A[0], 2.5); crossAt(svg, 551, A[0], 2.5);
	legendText(563, A[0], [["a", "i"], [" \u2212 "], ["t", "i"], [" , central differences"]]);
	triAt(svg, 533, A[1], "#000060"); triAt(svg, 551, A[1], "#000060");
	legendText(563, A[1], [["3P moving average"]]);
	mathText(svg, 433, ev.aNote.y, [["a", "i"], [["fit", "max"], "ud"], ["= " + ev.aNote.fit + " m s"], ["\u22122", "u"]], NOTE);
	mathText(svg, 581, ev.aNote.y, [["a", "i"], [["der.", "max"], "ud"], ["= " + ev.aNote.der + " m s"], ["\u22122", "u"]], NOTE);
}

drawEvent({
	tag: "(a)", num: "#1", date: "2011-07-08", head: 19,
	t: [-0.8, 13.87], hours: hoursA, hourLabels: hourLabelsA,
	rBox: [43, 193], rDom: [0, 70], rTicks: rTicksA, rMinor: 5, rLab: [60, 120],
	rData: rDataA, rFit: rFitA, rAvg: rAvgA, knots: null,
	rLeg: [60, 80],
	insets: [
		{box: [92, 266, 48, 79], t: [-0.37, 0.35], r: [1.2, 2.6], nx: 20, ny: 5, links: [["lt", "lb"], ["rt", "rb"]]},
		{box: [460, 711, 118, 188], t: [1.3, 2.8], r: [5.8, 15.0], nx: 20, ny: 8, links: [["lt", "lt"], ["rb", "lb"]]}
	],
	vBox: [193, 345], vDom: [-150, 1800], vStep: 200,
	vFit: vFitA, vBand: vBandA, vDot: vDotA, vCross: vCrossA, vAvg: vAvgA,
	vLeg: {lx: 453, y: [213, 231, 213, 231]},
	vNote: {x: [212, 388], y: [310, 327], fitMax: 1212, fit12: 859, derMax: 1245, fit50: 920},
	aBox: [345, 496], aDom: [-1000, 2000], aLab: [37, 423],
	aFit: aFitA, aInt: aIntA, aDot: aDotA, aBand: aBandA, aCross: aCrossA, aAvg: aAvgA,
	aLeg: [363, 382, 402], aNote: {y: 482, fit: 424, der: 449}
});

drawEvent({
	tag: "(b)", num: "#2", date: "2011-08-04", head: 549,
	t: [3.52, 18.55], hours: hoursB, hourLabels: hourLabelsB,
	rBox: [572, 723], rDom: [0, 90], rTicks: rTicksB, rMinor: 10, rLab: [60, 648],
	rData: rDataB, rFit: rFitB, rAvg: rAvgB, knots: knotsB,
	rLeg: [590, 609],
	insets: [
		{box: [92, 195, 578, 637], t: [3.97, 5.0], r: [1.2, 15.5], nx: 12, ny: 8, links: [["lt", "lb"], ["rt", "rb"]]},
		{box: [475, 709, 647, 717], t: [6.48, 8.35], r: [23.2, 37.5], nx: 20, ny: 8, links: [["rt", "lt"], ["lb", "lb"]]}
	],
	vBox: [723, 875], vDom: [-200, 3400], vStep: 400,
	vFit: vFitB, vBand: vBandB, vDot: vDotB, vCross: vCrossB, vAvg: vAvgB,
	vLeg: {lx: 535, y: [743, 761, 779, 797]},
	vNote: {x: [180, 359], y: [745, 762], fitMax: 2874, fit12: 2028, derMax: 3477, fit50: 1384},
	aBox: [875, 1026], aDom: [-1500, 2000], aLab: [37, 955],
	aFit: aFitB, aInt: aIntB, aDot: aDotB, aBand: aBandB, aCross: aCrossB, aAvg: aAvgB,
	aLeg: [893, 912, 932], aNote: {y: 1011, fit: 1283, der: 831}
});
</script>
</body>
</html>
